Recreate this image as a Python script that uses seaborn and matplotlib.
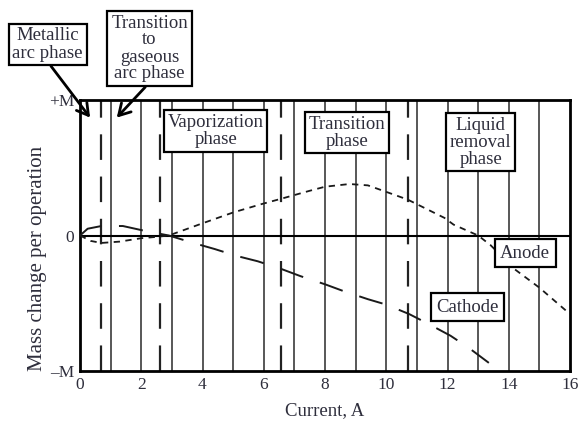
import matplotlib
matplotlib.use("Agg")
import matplotlib.pyplot as plt
import seaborn as sns
import pandas as pd

# ---- data ----
anode_x = [0, 0.35, 0.7, 1.3, 2.0, 2.5, 2.9, 4.0, 5.0, 5.9, 6.55, 7.5, 8.0, 8.8, 9.4, 9.9,
           10.7, 11.9, 12.2, 13.0, 13.4, 14.2, 15.0, 16.0]
anode_y = [0, -0.04, -0.055, -0.045, -0.02, -0.01, 0.0, 0.09, 0.17, 0.23, 0.27, 0.33, 0.36,
           0.38, 0.37, 0.33, 0.265, 0.13, 0.08, 0.0, -0.07, -0.25, -0.385, -0.58]
cathode_x = [0, 0.25, 0.7, 1.4, 2.2, 2.9, 3.7, 4.4, 5.1, 5.8, 6.55, 7.2, 8.0, 8.6, 9.4, 10.0,
             10.75, 11.4, 12.1, 12.7, 13.35]
cathode_y = [0, 0.05, 0.07, 0.07, 0.03, 0.0, -0.055, -0.10, -0.15, -0.19, -0.245, -0.30, -0.36,
             -0.41, -0.47, -0.51, -0.58, -0.655, -0.74, -0.83, -0.94]
phase_bounds = [0.7, 2.6, 6.55, 10.7]
grid_x = list(range(1, 16))
x_ticks = [0, 2, 4, 6, 8, 10, 12, 14, 16]
y_ticks = [-1, 0, 1]
y_ticklabels = ["\u2013M", "0", "+M"]

sns.set_style("white")
plt.rcParams["font.family"] = ["Liberation Serif", "DejaVu Serif"]
TXT = "#2e2e3c"

fig = plt.figure(figsize=(5.8, 4.21), dpi=100)
ax = fig.add_axes([80/580, 1-371/421, 490/580, 271/421])

for gx in grid_x:
    ax.axvline(gx, color="#4a4a4a", lw=1.3, zorder=1)
for bx in phase_bounds:
    ax.axvline(bx, color="#222222", lw=1.6, linestyle=(0, (11.5, 7.5)), zorder=2)
ax.axhline(0, color="black", lw=1.5, zorder=2)

df_a = pd.DataFrame({"x": anode_x, "y": anode_y})
df_c = pd.DataFrame({"x": cathode_x, "y": cathode_y})
sns.lineplot(data=df_a, x="x", y="y", ax=ax, color="#1a1a1a", lw=1.3,
             linestyle=(0, (3.5, 3.0)), sort=False, zorder=3)
sns.lineplot(data=df_c, x="x", y="y", ax=ax, color="#1a1a1a", lw=1.4,
             linestyle=(0, (12.5, 9.0)), sort=False, zorder=3)

ax.set_xlim(0, 16)
ax.set_ylim(-1, 1)
ax.set_xticks(x_ticks)
ax.set_xticklabels([str(t) for t in x_ticks])
ax.set_yticks(y_ticks)
ax.set_yticklabels(y_ticklabels)
ax.tick_params(length=0, labelsize=12.5, colors=TXT, pad=4)
for s in ax.spines.values():
    s.set_linewidth(2.0)
    s.set_color("black")
ax.set_xlabel("Current, A", fontsize=13.5, color=TXT, labelpad=7)
ax.set_ylabel("Mass change per operation", fontsize=15, color=TXT)
ax.yaxis.set_label_coords(-0.067, 0.415)

box = dict(boxstyle="square,pad=0.2", fc="white", ec="black", lw=1.6)
fs = 13.5
ls = 1.0

def in_box(x, y, s, pad=0.2):
    b = dict(box, boxstyle=f"square,pad={pad}")
    ax.text(x, y, s, ha="center", va="center", fontsize=fs, color=TXT,
            bbox=b, zorder=5, linespacing=ls)

in_box(4.43, 0.77, "Vaporization\nphase")
in_box(8.71, 0.76, "Transition\nphase")
in_box(13.09, 0.69, "Liquid\nremoval\nphase")
in_box(14.54, -0.13, "Anode", pad=0.3)
in_box(12.65, -0.53, "Cathode", pad=0.3)

arrow = dict(arrowstyle="->,head_length=0.6,head_width=0.35", lw=2.0, color="black",
             relpos=(0.5, 0), shrinkA=0, shrinkB=0)
ax.annotate("Metallic\narc phase", xy=(0.33, 0.87), xycoords="data",
            xytext=(47.5/580, 1-44.5/421), textcoords="figure fraction",
            ha="center", va="center", fontsize=fs, color=TXT, bbox=box,
            arrowprops=arrow, linespacing=ls, annotation_clip=False)
ax.annotate("Transition\nto\ngaseous\narc phase", xy=(1.2, 0.87), xycoords="data",
            xytext=(149.5/580, 1-48.5/421), textcoords="figure fraction",
            ha="center", va="center", fontsize=fs, color=TXT, bbox=box,
            arrowprops=arrow, linespacing=ls, annotation_clip=False)

fig.savefig("out.png", dpi=100)
